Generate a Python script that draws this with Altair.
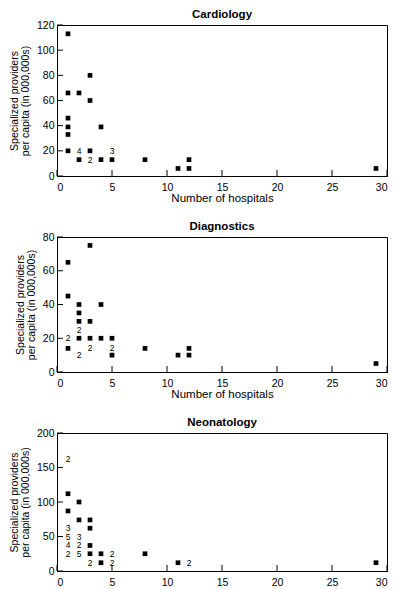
import altair as alt
import pandas as pd

# ---------------- data ----------------
x_ticks = [0, 5, 10, 15, 20, 25, 30]

# Cardiology
card_x = [1, 1, 1, 1, 1, 1, 2, 2, 3, 3, 3, 4, 4, 5, 8, 11, 12, 12, 29]
card_y = [113, 66, 46, 39, 33, 20, 66, 13, 80, 60, 20, 39, 13, 13, 13, 6, 13, 6, 6]
card_lab_x = [2, 3, 5]
card_lab_y = [20, 13, 20]
card_lab_n = ["4", "2", "3"]

# Diagnostics
diag_x = [1, 1, 1, 2, 2, 2, 2, 3, 3, 3, 4, 4, 5, 5, 8, 11, 12, 12, 29]
diag_y = [65, 45, 14, 40, 35, 30, 20, 75, 30, 20, 40, 20, 20, 10, 14, 10, 14, 10, 5]
diag_lab_x = [1, 2, 2, 3, 5]
diag_lab_y = [20, 25, 10, 14, 14]
diag_lab_n = ["2", "2", "2", "2", "2"]

# Neonatology
neo_x = [1, 1, 2, 2, 3, 3, 3, 3, 4, 4, 8, 11, 29]
neo_y = [112, 87, 100, 74, 74, 62, 37, 25, 25, 12, 25, 12, 12]
neo_lab_x = [1, 1, 1, 1, 1, 2, 2, 2, 3, 5, 5, 12]
neo_lab_y = [162, 62, 50, 37, 25, 50, 37, 25, 12, 25, 12, 12]
neo_lab_n = ["2", "3", "5", "4", "2", "3", "2", "5", "2", "2", "2", "2"]

Y_TITLE = ["Specialized providers", "per capita (in 000,000s)"]
X_TITLE = "Number of hospitals"
FONT = "Liberation Sans"
W = 330
TICK = 6


def panel(title, px, py, lx, ly, ln, ymax, ystep, height, show_xtitle=True):
    pts = pd.DataFrame({"x": px, "y": py})
    labs = pd.DataFrame({"x": lx, "y": ly, "n": ln})
    y_ticks = list(range(0, ymax + 1, ystep))
    xs = alt.Scale(domain=[0, 30], nice=False, zero=True)
    ys = alt.Scale(domain=[0, ymax], nice=False, zero=True)
    xt = X_TITLE if show_xtitle else None

    def X():
        return alt.X("x:Q", scale=xs, title=xt,
                     axis=alt.Axis(values=x_ticks, format="d"))

    def Y():
        return alt.Y("y:Q", scale=ys, title=Y_TITLE,
                     axis=alt.Axis(values=y_ticks, format="d"))

    points = alt.Chart(pts).mark_square(size=22, color="black", opacity=1).encode(
        x=X(), y=Y())
    texts = alt.Chart(labs).mark_text(
        fontSize=8.5, font=FONT, color="black", baseline="middle", align="center"
    ).encode(x=X(), y=Y(), text="n:N")
    xt_rules = alt.Chart(pd.DataFrame({"x": x_ticks})).mark_rule(
        color="black", strokeWidth=1
    ).encode(x=X(), y=alt.value(height), y2=alt.value(height - TICK))
    yt_rules = alt.Chart(pd.DataFrame({"y": y_ticks})).mark_rule(
        color="black", strokeWidth=1
    ).encode(y=Y(), x=alt.value(0), x2=alt.value(TICK))

    return alt.layer(points, texts, xt_rules, yt_rules).properties(
        width=W, height=height,
        title=alt.TitleParams(title, fontSize=11.5, font=FONT,
                              fontWeight="bold", color="black", offset=0),
    )


p1 = panel("Cardiology", card_x, card_y, card_lab_x, card_lab_y, card_lab_n,
           120, 20, 151)
p2 = panel("Diagnostics", diag_x, diag_y, diag_lab_x, diag_lab_y, diag_lab_n,
           80, 20, 135)
p3 = panel("Neonatology", neo_x, neo_y, neo_lab_x, neo_lab_y, neo_lab_n,
           200, 50, 138, show_xtitle=False)

chart = alt.vconcat(p1, p2, p3, spacing=15).properties(
    padding=0, background="white"
).configure_view(
    stroke="black", strokeWidth=1
).configure_axis(
    grid=False, ticks=False, domain=True, domainColor="black", domainWidth=1,
    labelColor="black", labelFont=FONT, labelFontSize=10.5, labelPadding=3,
    titleColor="black", titleFont=FONT, titleFontSize=10.5,
    titleFontWeight="normal",
).configure_axisX(
    titleFontSize=11.5, titlePadding=0, labelPadding=6,
).configure_axisY(
    titlePadding=6, titleLineHeight=11,
)

chart.save("out.html", embed_options={"renderer": "svg", "actions": False})
